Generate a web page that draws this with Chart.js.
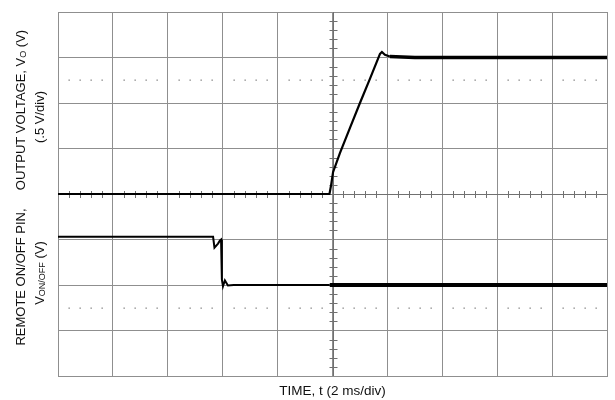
<!DOCTYPE html>
<html>
<head>
<meta charset="utf-8">
<script src="https://cdn.jsdelivr.net/npm/chart.js@4"></script>
<style>
  html, body { margin: 0; padding: 0; background: #fff; }
  #wrap { width: 615px; height: 400px; }
</style>
</head>
<body>
<div id="wrap"><canvas id="scope" width="615" height="400"></canvas></div>
<script>
// Output voltage trace (time in ms, voltage in V)
const voTimeMs = [0, 9.89, 9.945, 10.02, 10.27, 10.64, 11.00, 11.37, 11.73, 11.80, 11.91, 12.09, 13, 14, 15, 16, 17, 18, 19, 20];
const voVolts  = [0, 0,    0.09,  0.24,  0.45,  0.73,  1.00,  1.27,  1.54,  1.56,  1.53,  1.51,  1.50, 1.50, 1.50, 1.50, 1.50, 1.50, 1.50, 1.50];

// Remote ON/OFF pin trace (time in ms, level in V)
const onoffTimeMs = [0, 1, 2, 3, 4, 5, 5.65, 5.70, 5.83, 5.90, 5.94, 5.97, 6.01, 6.08, 6.19, 6.40, 8, 9.9, 10, 12, 14, 16, 18, 20];
const onoffVolts  = [1.06, 1.06, 1.06, 1.06, 1.06, 1.06, 1.06, 0.82, 0.91, 0.98, 1.00, 0.12, -0.03, 0.10, -0.01, 0, 0, 0, 0, 0, 0, 0, 0, 0];

// Screen graticule
const timeRange = [0, 20];      // 10 divisions of 2 ms
const voRange = [-2, 2];        // 8 divisions of 0.5 V
const onoffRange = [-2, 6];     // same 8 divisions, zero two divisions below centre
const timeDiv = 2;
const voDiv = 0.5;
const dotRowsV = [1.25, -1.25];

const toPoints = (xs, ys) => xs.map((x, i) => ({ x: x, y: ys[i] }));

const GRID = '#8f8f8f';
const AXIS = '#707070';
const FONT = '"Liberation Sans", Arial, sans-serif';

const scopeMarks = {
  id: 'scopeMarks',
  beforeDatasetsDraw(chart) {
    const { ctx, chartArea: a, scales: { x, y } } = chart;
    ctx.save();
    // dotted rows
    ctx.fillStyle = '#808080';
    const minor = timeDiv / 5;
    for (const v of dotRowsV) {
      const py = Math.round(y.getPixelForValue(v));
      for (let t = timeRange[0]; t <= timeRange[1] + 1e-9; t += minor) {
        const k = Math.round(t / minor);
        if (k % 5 === 0) continue;
        const px = Math.round(x.getPixelForValue(t));
        ctx.fillRect(px - 0.5, py - 0.5, 1.3, 1.3);
      }
    }
    // centre axes with minor ticks
    const cx = Math.round(x.getPixelForValue(10)) + 0.5;
    const cy = Math.round(y.getPixelForValue(0)) + 0.5;
    ctx.strokeStyle = AXIS;
    ctx.lineWidth = 1;
    ctx.beginPath();
    ctx.moveTo(a.left, cy); ctx.lineTo(a.right, cy);
    ctx.moveTo(cx, a.top); ctx.lineTo(cx, a.bottom);
    for (let t = timeRange[0]; t <= timeRange[1] + 1e-9; t += minor) {
      const k = Math.round(t / minor);
      if (k % 5 === 0) continue;
      const px = Math.round(x.getPixelForValue(t)) + 0.5;
      ctx.moveTo(px, cy - 3.5); ctx.lineTo(px, cy + 3.5);
    }
    const vminor = voDiv / 5;
    for (let v = voRange[0]; v <= voRange[1] + 1e-9; v += vminor) {
      const k = Math.round(v / vminor);
      if (k % 5 === 0) continue;
      const py = Math.round(y.getPixelForValue(v)) + 0.5;
      ctx.moveTo(cx - 4, py); ctx.lineTo(cx + 4, py);
    }
    ctx.stroke();
    ctx.restore();
  },
  afterDraw(chart) {
    const { ctx, chartArea: a } = chart;
    ctx.save();
    ctx.fillStyle = '#111';
    ctx.textBaseline = 'middle';
    // x title
    ctx.font = '13.5px ' + FONT;
    ctx.textAlign = 'center';
    ctx.fillText('TIME, t (2 ms/div)', (a.left + a.right) / 2, 391);

    // rich text runs drawn centred on the given position in the current transform
    const drawRuns = (runs, cxp) => {
      let w = 0;
      for (const r of runs) { ctx.font = r.size + 'px ' + FONT; w += ctx.measureText(r.t).width; }
      let xp = cxp - w / 2;
      ctx.textAlign = 'left';
      for (const r of runs) {
        ctx.font = r.size + 'px ' + FONT;
        ctx.fillText(r.t, xp, r.dy || 0);
        xp += ctx.measureText(r.t).width;
      }
    };

    ctx.save();
    ctx.translate(21, 0);
    ctx.rotate(-Math.PI / 2);
    drawRuns([{ t: 'OUTPUT VOLTAGE, V', size: 13 }, { t: 'O', size: 9, dy: 3 }, { t: ' (V)', size: 13 }], -110);
    drawRuns([{ t: 'REMOTE ON/OFF PIN,', size: 13 }], -277);
    ctx.restore();

    ctx.save();
    ctx.translate(40, 0);
    ctx.rotate(-Math.PI / 2);
    drawRuns([{ t: '(.5 V/div)', size: 13 }], -117);
    drawRuns([{ t: 'V', size: 13 }, { t: 'ON/OFF', size: 9, dy: 3 }, { t: ' (V)', size: 13 }], -273);
    ctx.restore();

    ctx.restore();
  }
};

new Chart(document.getElementById('scope'), {
  type: 'line',
  data: {
    datasets: [
      {
        label: 'Vo',
        data: toPoints(voTimeMs, voVolts),
        yAxisID: 'y',
        borderColor: '#000',
        borderWidth: 2,
        pointRadius: 0,
        tension: 0,
        segment: { borderWidth: c => (c.p0.parsed.x >= 12 ? 3.5 : 2.2) }
      },
      {
        label: 'VON/OFF',
        data: toPoints(onoffTimeMs, onoffVolts),
        yAxisID: 'yOn',
        borderColor: '#000',
        borderWidth: 2,
        pointRadius: 0,
        tension: 0,
        segment: { borderWidth: c => (c.p0.parsed.x >= 9.9 ? 4 : 2) }
      }
    ]
  },
  options: {
    responsive: false,
    animation: false,
    devicePixelRatio: 1,
    layout: { padding: { left: 58, top: 12, right: 8, bottom: 24 } },
    plugins: { legend: { display: false }, tooltip: { enabled: false } },
    scales: {
      x: {
        type: 'linear', min: timeRange[0], max: timeRange[1],
        ticks: { display: false, stepSize: timeDiv },
        grid: { color: GRID, drawTicks: false, tickLength: 0 },
        border: { color: GRID }
      },
      y: {
        min: voRange[0], max: voRange[1],
        ticks: { display: false, stepSize: voDiv },
        grid: { color: GRID, drawTicks: false, tickLength: 0 },
        border: { color: GRID }
      },
      yOn: {
        min: onoffRange[0], max: onoffRange[1],
        display: false
      }
    }
  },
  plugins: [scopeMarks]
});
</script>
</body>
</html>
